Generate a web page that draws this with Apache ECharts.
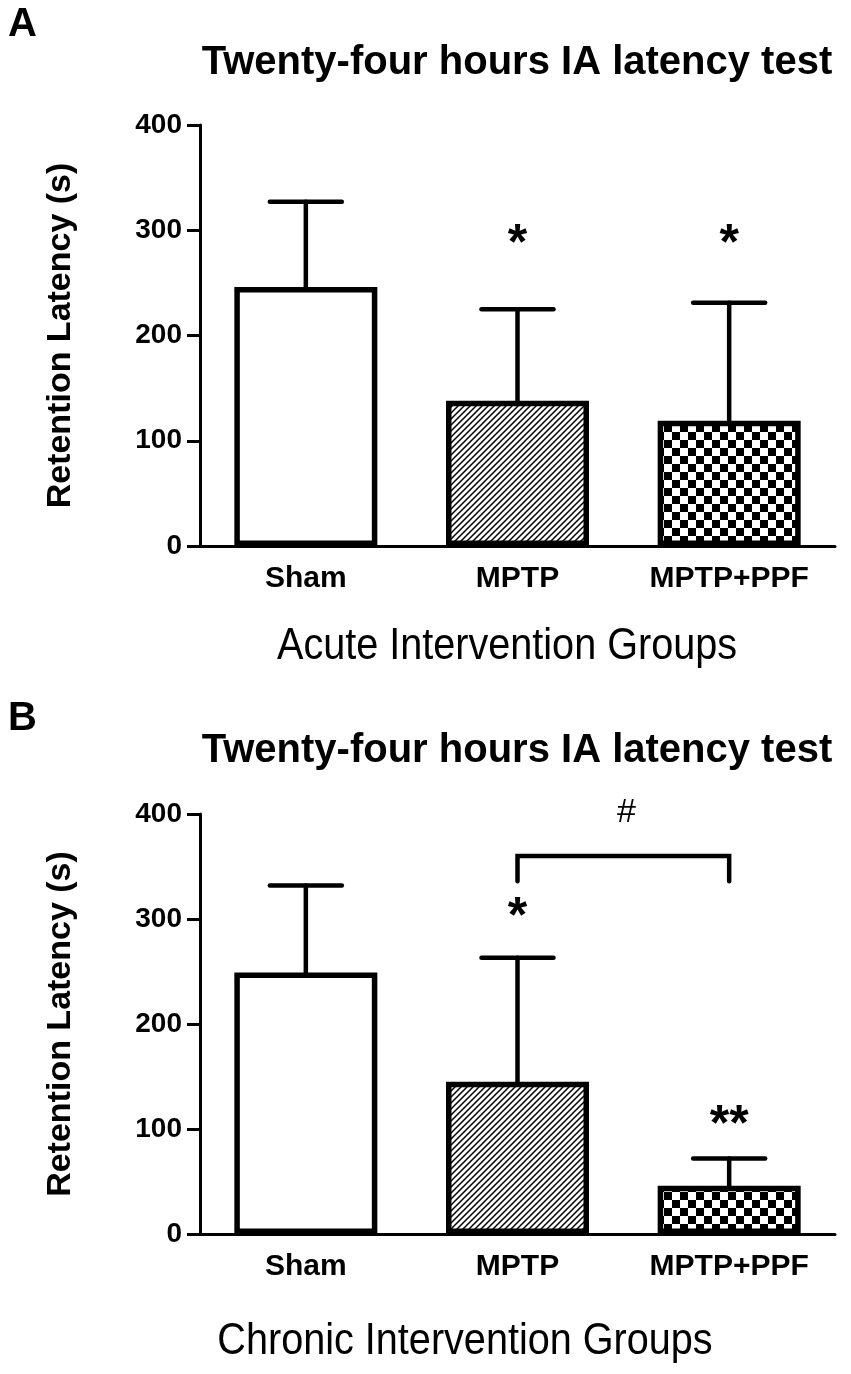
<!DOCTYPE html>
<html>
<head>
<meta charset="utf-8">
<script src="https://cdn.jsdelivr.net/npm/echarts@6/dist/echarts.min.js"></script>
<style>
  html, body { margin: 0; padding: 0; background: #fff; }
  #chart { width: 851px; height: 1374px; }
</style>
</head>
<body>
<div id="chart"></div>
<script>
// values
const categories = ['Sham', 'MPTP', 'MPTP+PPF'];
const acuteMean = [246, 138, 119];
const acuteErr = [81, 87, 112];
const chronicMean = [249, 145, 46];
const chronicErr = [83, 118, 26];
const yMin = 0, yMax = 400, yStep = 100;

// significance marks (category index, y value, text)
const acuteMarkCat = [1, 2];
const acuteMarkY = [297, 297];
const acuteMarkText = ['*', '*'];
const chronicMarkCat = [1, 2];
const chronicMarkY = [312, 114];
const chronicMarkText = ['*', '**'];
const bracketCats = [1, 2];
const bracketLevels = [336, 360];
const bracketLabel = '#';
const bracketLabelY = 401;

const FONT = '"Liberation Sans", Arial, sans-serif';

function hatchPattern() {
  const c = document.createElement('canvas');
  c.width = 6; c.height = 6;
  const ctx = c.getContext('2d');
  ctx.fillStyle = '#fff';
  ctx.fillRect(0, 0, 6, 6);
  ctx.strokeStyle = '#000';
  ctx.lineWidth = 1.5;
  ctx.beginPath();
  ctx.moveTo(-1, 7); ctx.lineTo(7, -1);
  ctx.moveTo(-4, 4); ctx.lineTo(4, -4);
  ctx.moveTo(2, 10); ctx.lineTo(10, 2);
  ctx.stroke();
  return c;
}

function checkerPattern() {
  const c = document.createElement('canvas');
  c.width = 16; c.height = 16;
  const ctx = c.getContext('2d');
  ctx.fillStyle = '#fff';
  ctx.fillRect(0, 0, 16, 16);
  ctx.fillStyle = '#000';
  ctx.fillRect(0, 0, 8, 8);
  ctx.fillRect(8, 8, 8, 8);
  return c;
}

const fills = ['#fff', { image: hatchPattern(), repeat: 'repeat' }, { image: checkerPattern(), repeat: 'repeat' }];

function barData(means) {
  return means.map((v, i) => ({ value: v, itemStyle: { color: fills[i] } }));
}

function errData(means, errs) {
  return means.map((v, i) => [i, v, errs[i]]);
}

function renderErr(params, api) {
  const i = api.value(0);
  const base = api.coord([i, api.value(1)]);
  const top = api.coord([i, api.value(1) + api.value(2)]);
  const st = { stroke: '#000', lineWidth: 4.5, lineCap: 'round' };
  return {
    type: 'group',
    children: [
      { type: 'line', shape: { x1: base[0], y1: base[1], x2: top[0], y2: top[1] }, style: st },
      { type: 'line', shape: { x1: top[0] - 36, y1: top[1], x2: top[0] + 36, y2: top[1] }, style: st }
    ]
  };
}

function markRenderer(texts) {
  return function (params, api) {
    const p = api.coord([api.value(0), api.value(1)]);
    return {
      type: 'text',
      x: p[0], y: p[1] + 12,
      style: {
        text: texts[params.dataIndex], fill: '#000',
        font: 'bold 50px ' + FONT,
        textAlign: 'center', textVerticalAlign: 'middle'
      }
    };
  };
}

function xAxisCfg(g) {
  return {
    type: 'category', gridIndex: g, data: categories,
    axisLine: { lineStyle: { color: '#000', width: 3 } },
    axisTick: { alignWithLabel: true, length: 12, lineStyle: { color: '#000', width: 3 } },
    axisLabel: { color: '#000', fontWeight: 'bold', fontSize: 30, fontFamily: FONT, margin: 18 },
    splitLine: { show: false }
  };
}

function yAxisCfg(g) {
  return {
    type: 'value', gridIndex: g, min: yMin, max: yMax, interval: yStep,
    name: 'Retention Latency (s)', nameLocation: 'middle', nameGap: 122,
    nameTextStyle: { color: '#000', fontWeight: 'bold', fontSize: 34, fontFamily: FONT },
    axisLine: { show: true, lineStyle: { color: '#000', width: 3 } },
    axisTick: { show: true, length: 13, lineStyle: { color: '#000', width: 3 } },
    axisLabel: { color: '#000', fontWeight: 'bold', fontSize: 28, fontFamily: FONT, margin: 18 },
    splitLine: { show: false }
  };
}

function barSeries(g, means) {
  return {
    type: 'bar', xAxisIndex: g, yAxisIndex: g, barWidth: 143,
    data: barData(means),
    itemStyle: { borderColor: '#000', borderWidth: 5.5 },
    silent: true, animation: false
  };
}

function errSeries(g, means, errs) {
  return {
    type: 'custom', xAxisIndex: g, yAxisIndex: g, z: 3,
    data: errData(means, errs), renderItem: renderErr, silent: true, animation: false
  };
}

function markSeries(g, cats, ys, texts) {
  return {
    type: 'custom', xAxisIndex: g, yAxisIndex: g, z: 4,
    data: cats.map((c, i) => [c, ys[i]]), renderItem: markRenderer(texts),
    silent: true, animation: false
  };
}

const chart = echarts.init(document.getElementById('chart'));
chart.setOption({
  backgroundColor: '#fff',
  animation: false,
  grid: [
    { left: 200, right: 16, top: 125, height: 421 },
    { left: 200, right: 16, top: 814, height: 420 }
  ],
  xAxis: [xAxisCfg(0), xAxisCfg(1)],
  yAxis: [yAxisCfg(0), yAxisCfg(1)],
  graphic: [
    { type: 'text', x: 8, y: 25, style: { text: 'A', font: 'bold 40px ' + FONT, fill: '#000', textVerticalAlign: 'middle' } },
    { type: 'text', x: 517, y: 63, style: { text: 'Twenty-four hours IA latency test', font: 'bold 40px ' + FONT, fill: '#000', textAlign: 'center', textVerticalAlign: 'middle' } },
    { type: 'text', x: 507, y: 647, scaleX: 0.9, style: { text: 'Acute Intervention Groups', font: '44px ' + FONT, fill: '#000', textAlign: 'center', textVerticalAlign: 'middle' } },
    { type: 'text', x: 8, y: 719, style: { text: 'B', font: 'bold 40px ' + FONT, fill: '#000', textVerticalAlign: 'middle' } },
    { type: 'text', x: 517, y: 751, style: { text: 'Twenty-four hours IA latency test', font: 'bold 40px ' + FONT, fill: '#000', textAlign: 'center', textVerticalAlign: 'middle' } },
    { type: 'text', x: 465, y: 1342, scaleX: 0.9, style: { text: 'Chronic Intervention Groups', font: '44px ' + FONT, fill: '#000', textAlign: 'center', textVerticalAlign: 'middle' } }
  ],
  series: [
    barSeries(0, acuteMean),
    errSeries(0, acuteMean, acuteErr),
    markSeries(0, acuteMarkCat, acuteMarkY, acuteMarkText),
    barSeries(1, chronicMean),
    errSeries(1, chronicMean, chronicErr),
    markSeries(1, chronicMarkCat, chronicMarkY, chronicMarkText),
    {
      type: 'custom', xAxisIndex: 1, yAxisIndex: 1, z: 4, silent: true, animation: false,
      data: [[bracketCats[0], bracketCats[1]]],
      renderItem: function (params, api) {
        const a = api.coord([bracketCats[0], bracketLevels[0]]);
        const b = api.coord([bracketCats[0], bracketLevels[1]]);
        const c = api.coord([bracketCats[1], bracketLevels[1]]);
        const d = api.coord([bracketCats[1], bracketLevels[0]]);
        const ly = api.coord([bracketCats[0], bracketLabelY])[1];
        return {
          type: 'group',
          children: [
            { type: 'polyline', shape: { points: [a, b, c, d] }, style: { stroke: '#000', lineWidth: 4.5, lineCap: 'round', lineJoin: 'miter', fill: null } },
            { type: 'text', x: (b[0] + c[0]) / 2 + 3, y: ly, style: { text: bracketLabel, font: '34px ' + FONT, fill: '#000', textAlign: 'center', textVerticalAlign: 'middle' } }
          ]
        };
      }
    }
  ]
});
</script>
</body>
</html>
